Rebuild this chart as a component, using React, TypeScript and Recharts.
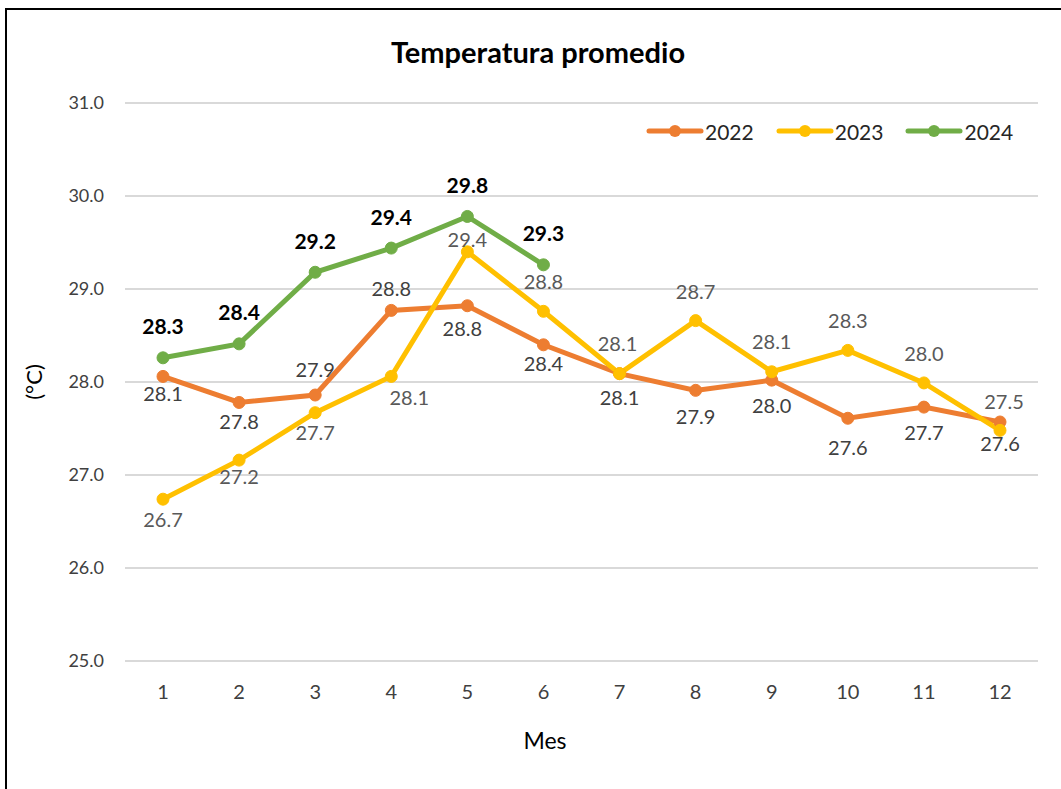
import React from 'react';
import { LineChart, Line, XAxis, YAxis, CartesianGrid, LabelList } from 'recharts';

const months = ['1', '2', '3', '4', '5', '6', '7', '8', '9', '10', '11', '12'];
const t2022 = [28.06, 27.78, 27.86, 28.77, 28.82, 28.4, 28.09, 27.91, 28.02, 27.61, 27.73, 27.57];
const t2023 = [26.74, 27.16, 27.67, 28.06, 29.4, 28.76, 28.09, 28.66, 28.11, 28.34, 27.99, 27.48];
const t2024: (number | null)[] = [28.26, 28.41, 29.18, 29.44, 29.78, 29.26, null, null, null, null, null, null];
const yTicks = [25, 26, 27, 28, 29, 30, 31];

// label placement (pixel offsets from the point)
const dy2022 = [17, 19, -26, -22, 22, 18, 23, 26, 25, 29, 25, 21];
const dx2022 = [0, 0, 0, 0, -5, 0, 0, 0, 0, 0, 0, 0];
const dy2023 = [20, 16, 19, 21, -13, -30, -31, -30, -31, -30, -30, -29];
const dx2023 = [0, 0, 0, 18, 0, 0, -2, 0, 0, 0, 0, 4];
const dy2024 = [-32, -32, -32, -32, -32, -32];

const data = months.map((m, i) => ({
  mes: m,
  y2022: t2022[i],
  y2023: t2023[i],
  y2024: t2024[i],
}));

const FONT = 'Lato, "Open Sans", sans-serif';

const makeLabel = (dys: number[], dxs: number[] | null, color: string, bold: boolean, size: number) =>
  (props: any) => {
    const { x, y, value, index } = props;
    if (value == null || x == null || y == null) return null;
    const dy = dys[index] ?? 0;
    const dx = dxs ? dxs[index] ?? 0 : 0;
    return (
      <text
        x={Number(x) + dx}
        y={Number(y) + dy}
        textAnchor="middle"
        dominantBaseline="central"
        fill={color}
        fontSize={size}
        fontWeight={bold ? 700 : 400}
        fontFamily={FONT}
      >
        {Number(value).toFixed(1)}
      </text>
    );
  };

const legendItems = [
  { name: '2022', color: '#ED7D31' },
  { name: '2023', color: '#FFC000' },
  { name: '2024', color: '#70AD47' },
];

export default function App() {
  return (
    <div style={{ position: 'absolute', left: 0, top: 0, width: 1061, height: 789, overflow: 'hidden', background: '#fff', fontFamily: FONT }}>
      <div style={{ position: 'absolute', left: 5, top: 8, width: 2, height: 781, background: '#000' }} />
      <div style={{ position: 'absolute', left: 5, top: 8, width: 1056, height: 2, background: '#000' }} />
      <div style={{ position: 'absolute', left: 0, width: 1076, top: 34, textAlign: 'center', fontSize: 29, fontWeight: 700, color: '#000', lineHeight: '36px' }}>
        Temperatura promedio
      </div>
      <div style={{ position: 'absolute', left: 33, top: 382, transform: 'translate(-50%, -50%) rotate(-90deg)', fontSize: 22, color: '#000', whiteSpace: 'nowrap' }}>
        (°C)
      </div>
      <div style={{ position: 'absolute', left: 545, top: 740, transform: 'translate(-50%, -50%)', fontSize: 23, color: '#000' }}>
        Mes
      </div>
      <div style={{ position: 'absolute', left: 646, top: 117, display: 'flex', alignItems: 'center', height: 28 }}>
        {legendItems.map((it) => (
          <div key={it.name} style={{ display: 'flex', alignItems: 'center', marginRight: 22 }}>
            <svg width={58} height={14}>
              <line x1={3} y1={7} x2={55} y2={7} stroke={it.color} strokeWidth={5} strokeLinecap="round" />
              <circle cx={29} cy={7} r={6} fill={it.color} />
            </svg>
            <span style={{ fontSize: 21, color: '#262626', marginLeft: 1 }}>{it.name}</span>
          </div>
        ))}
      </div>
      <div style={{ position: 'absolute', left: 0, top: 0 }}>
        <LineChart width={1061} height={789} data={data} margin={{ top: 103, right: 23, bottom: 0, left: 65 }}>
          <CartesianGrid vertical={false} stroke="#d9d9d9" strokeWidth={2} />
          <XAxis
            dataKey="mes"
            axisLine={false}
            tickLine={false}
            tickMargin={18}
            padding={{ left: 38, right: 38 }}
            tick={{ fill: '#404040', fontSize: 20, fontFamily: FONT }}
            height={128}
          />
          <YAxis
            domain={[25, 31]}
            ticks={yTicks}
            axisLine={false}
            tickLine={false}
            tickMargin={15}
            width={60}
            tickFormatter={(v: number) => v.toFixed(1)}
            tick={{ fill: '#404040', fontSize: 18, fontFamily: FONT }}
            allowDataOverflow
          />
          <Line
            dataKey="y2022"
            stroke="#ED7D31"
            strokeWidth={5}
            dot={{ r: 6, fill: '#ED7D31', stroke: '#ED7D31', strokeWidth: 1 }}
            isAnimationActive={false}
          >
            <LabelList dataKey="y2022" content={makeLabel(dy2022, dx2022, '#404040', false, 20)} />
          </Line>
          <Line
            dataKey="y2023"
            stroke="#FFC000"
            strokeWidth={5}
            dot={{ r: 6, fill: '#FFC000', stroke: '#FFC000', strokeWidth: 1 }}
            isAnimationActive={false}
          >
            <LabelList dataKey="y2023" content={makeLabel(dy2023, dx2023, '#595959', false, 20)} />
          </Line>
          <Line
            dataKey="y2024"
            stroke="#70AD47"
            strokeWidth={5}
            dot={{ r: 6, fill: '#70AD47', stroke: '#70AD47', strokeWidth: 1 }}
            isAnimationActive={false}
          >
            <LabelList dataKey="y2024" content={makeLabel(dy2024, null, '#000000', true, 21)} />
          </Line>
        </LineChart>
      </div>
    </div>
  );
}
